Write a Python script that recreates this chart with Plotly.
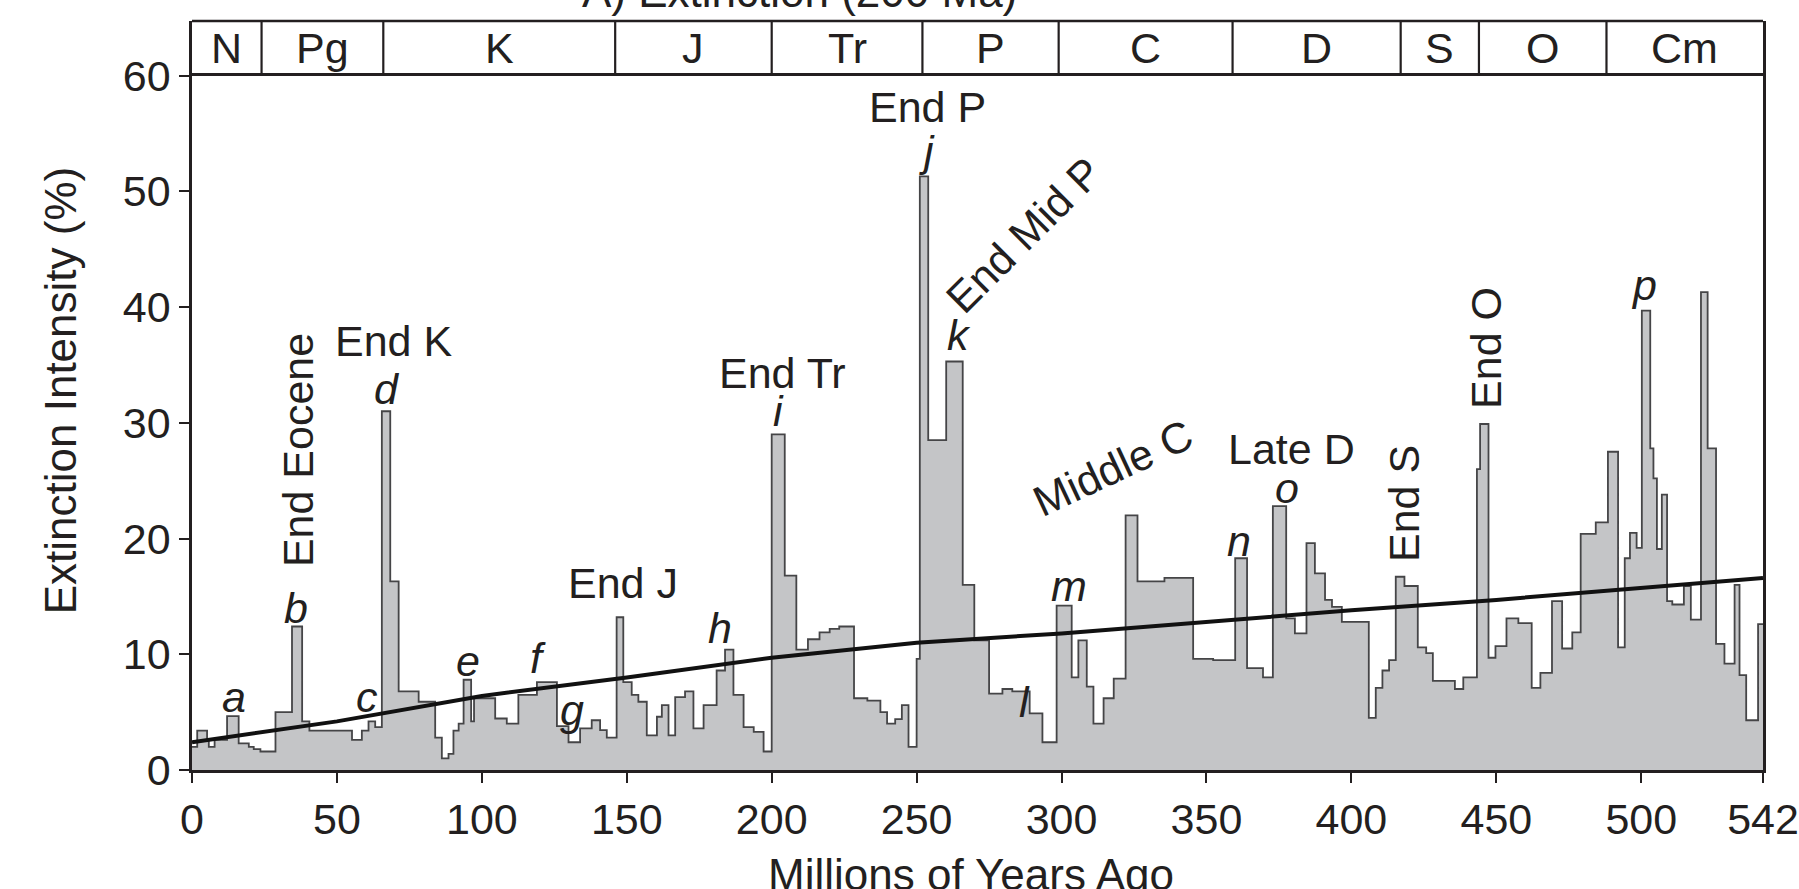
import plotly.graph_objects as go

# ---------------- data ----------------
# start of each stage interval (Ma); last entry is the end of the record
stage_start_ma = [
    0, 1.8, 5.2, 5.8, 7.8, 12.1, 16.1, 19.6, 21.3, 23.6, 28.8, 34.5, 38.0, 40.5,
    55.2, 58.6, 60.9, 63.2, 65.5, 68.4, 71.3, 78.2, 83.9, 86.2, 88.5, 90.2, 92.0,
    93.7, 96.3, 97.3, 104.6, 108.6, 112.6, 119.0, 125.9, 129.9, 133.9, 137.9,
    140.8, 143.1, 146.5, 148.8, 151.7, 154.0, 156.9, 160.4, 162.1, 164.4, 166.7,
    170.1, 173.0, 176.5, 181.0, 183.9, 186.8, 190.3, 193.8, 197.2, 200.0, 204.5,
    208.5, 212.5, 216.5, 220.0, 223.3, 228.4, 233.0, 237.5, 239.8, 242.6, 244.9,
    247.2, 250.0, 251.1, 254.0, 260.2, 265.9, 269.9, 275.0, 279.6, 283.0, 289.0,
    293.4, 298.3, 303.5, 305.8, 308.7, 311.0, 314.5, 318.0, 322.1, 326.2, 335.5,
    345.4, 352.3, 359.9, 364.0, 369.5, 372.9, 377.5, 380.5, 384.5, 387.4, 390.9,
    393.3, 396.7, 406.0, 408.4, 410.7, 413.0, 415.3, 418.3, 422.9, 425.8, 428.1,
    435.7, 438.6, 443.3, 444.4, 447.3, 449.7, 453.5, 457.6, 462.2, 465.2, 469.2,
    472.7, 476.2, 479.1, 484.3, 488.5, 492.0, 494.3, 496.1, 498.4, 500.2, 503.1,
    504.2, 505.4, 507.1, 508.9, 510.7, 514.7, 517.1, 520.6, 522.9, 525.8, 528.7,
    532.2, 533.9, 536.2, 540.3, 542.0,
]
extinction_pct = [
    2.0, 3.4, 2.6, 2.0, 2.6, 4.65, 2.3, 2.0, 1.8, 1.6, 5.0, 12.4, 4.2, 3.4,
    2.6, 3.4, 4.2, 3.7, 31.0, 16.3, 6.8, 5.9, 2.8, 1.0, 1.4, 3.4, 4.0,
    7.8, 4.2, 6.2, 4.45, 4.0, 6.5, 7.6, 3.8, 2.4, 3.6, 4.3,
    3.45, 2.8, 13.2, 7.6, 6.5, 5.9, 3.0, 4.6, 5.6, 3.0, 6.3,
    6.8, 3.6, 5.6, 8.6, 10.4, 6.5, 3.7, 3.3, 1.6, 29.0, 16.8,
    10.4, 11.3, 11.9, 12.2, 12.4, 6.2, 6.0, 5.0, 4.0, 4.4, 5.6,
    2.0, 9.6, 51.3, 28.5, 35.3, 16.0, 11.2, 6.6, 7.0, 6.8, 4.9,
    2.4, 14.2, 8.0, 11.2, 7.2, 4.0, 6.2, 7.9, 22.0, 16.3, 16.6,
    9.6, 9.5, 18.3, 8.8, 8.0, 22.8, 13.1, 11.8, 19.6, 17.0, 14.7,
    14.1, 12.8, 4.5, 7.1, 8.6, 9.5, 16.7, 15.9, 10.6, 10.1, 7.7,
    7.0, 8.0, 26.0, 29.9, 9.7, 10.7, 13.1, 12.7, 7.1, 8.4, 14.6,
    10.5, 11.9, 20.4, 21.4, 27.5, 10.6, 18.3, 20.5, 19.2, 39.7, 27.8,
    25.2, 19.1, 23.8, 14.6, 14.3, 15.9, 13.0, 41.3, 27.8, 10.9, 9.2,
    16.0, 8.2, 4.3, 12.6, 12.6,
]

trend_ma = [0, 50, 100, 150, 200, 250, 300, 350, 400, 450, 500, 542]
trend_pct = [2.4, 4.2, 6.4, 8.0, 9.7, 11.0, 11.8, 12.8, 13.8, 14.7, 15.7, 16.6]

period_names = ["N", "Pg", "K", "J", "Tr", "P", "C", "D", "S", "O", "Cm"]
period_bounds = [0, 24, 66, 146, 200, 252, 299, 359, 417, 444, 488, 542]

x_ticks = [0, 50, 100, 150, 200, 250, 300, 350, 400, 450, 500, 542]
y_ticks = [0, 10, 20, 30, 40, 50, 60]

# event labels: (text, Ma, %, angle)
event_labels = [
    ("<i>a</i>", 14.6, 6.3, 0), ("<i>b</i>", 36.0, 14.0, 0), ("<i>c</i>", 60.5, 6.3, 0),
    ("<i>d</i>", 67.3, 32.9, 0), ("<i>e</i>", 95.3, 9.4, 0), ("<i>f</i>", 119.5, 9.7, 0),
    ("<i>g</i>", 131.0, 5.2, 0), ("<i>h</i>", 182.0, 12.3, 0), ("<i>i</i>", 202.5, 31.0, 0),
    ("<i>j</i>", 253.6, 53.5, 0), ("<i>k</i>", 264.7, 37.6, 0), ("<i>l</i>", 287.2, 5.9, 0),
    ("<i>m</i>", 302.6, 15.9, 0), ("<i>n</i>", 361.2, 19.8, 0), ("<i>o</i>", 377.8, 24.4, 0),
    ("<i>p</i>", 500.8, 41.9, 0),
    ("End Eocene", 36.4, 27.6, -90), ("End K", 69.6, 37.1, 0), ("End J", 148.7, 16.2, 0),
    ("End Tr", 203.7, 34.3, 0), ("End P", 253.6, 57.3, 0), ("End Mid P", 287.0, 46.2, -45),
    ("Middle C", 317.7, 26.1, -25), ("Late D", 379.4, 27.7, 0), ("End S", 418.2, 23.0, -90),
    ("End O", 446.2, 36.5, -90),
]

# ---------------- figure ----------------
INK = "#231f20"
FONT = "Liberation Sans, Arial, Helvetica, sans-serif"
FS = 43

fig = go.Figure()

fig.add_trace(go.Scatter(
    x=stage_start_ma, y=extinction_pct,
    mode="lines", line=dict(shape="hv", color="#454547", width=1.8),
    fill="tozeroy", fillcolor="#c4c5c7", hoverinfo="skip", showlegend=False,
))
fig.add_trace(go.Scatter(
    x=trend_ma, y=trend_pct, mode="lines",
    line=dict(color="#111111", width=4), hoverinfo="skip", showlegend=False,
))
# invisible trace to create the header subplot
fig.add_trace(go.Scatter(x=[0], y=[0], xaxis="x", yaxis="y2", mode="markers",
                         marker=dict(opacity=0), hoverinfo="skip", showlegend=False))

shapes = []
for b in period_bounds[1:-1]:
    shapes.append(dict(type="line", xref="x", yref="y2", x0=b, x1=b, y0=0, y1=1,
                       line=dict(color=INK, width=2.2)))
shapes.append(dict(type="line", xref="paper", yref="paper", x0=0, x1=1, y0=1, y1=1,
                   line=dict(color=INK, width=2.5)))

annotations = []
for name, a, b in zip(period_names, period_bounds[:-1], period_bounds[1:]):
    annotations.append(dict(text=name, x=(a + b) / 2, y=0.5, xref="x", yref="y2",
                            showarrow=False, font=dict(size=FS, color=INK, family=FONT)))
for txt, xm, yv, ang in event_labels:
    annotations.append(dict(text=txt, x=xm, y=yv, xref="x", yref="y", showarrow=False,
                            textangle=ang, font=dict(size=FS, color=INK, family=FONT)))

annotations.append(dict(text="Extinction Intensity (%)", x=-0.084, y=0.507, xref="paper",
                        yref="paper", xanchor="center", yanchor="middle", showarrow=False,
                        textangle=-90, font=dict(size=FS + 1, color=INK, family=FONT)))
annotations.append(dict(text="Millions of Years Ago", x=0.4956, y=-0.139, xref="paper",
                        yref="paper", xanchor="center", yanchor="middle", showarrow=False,
                        font=dict(size=FS + 1, color=INK, family=FONT)))
annotations.append(dict(text="A) Extinction (200 Ma)", x=0.387, y=1.0, xref="paper",
                        yref="paper", xanchor="center", yanchor="bottom", yshift=3,
                        showarrow=False, font=dict(size=FS + 1, color=INK, family=FONT)))

fig.update_layout(
    width=1799, height=889,
    margin=dict(l=192, r=36, t=21, b=119, pad=0),
    paper_bgcolor="white", plot_bgcolor="white",
    font=dict(family=FONT, color=INK, size=FS),
    shapes=shapes, annotations=annotations,
    xaxis=dict(range=[0, 542], tickvals=x_ticks, ticktext=[str(t) for t in x_ticks],
               ticks="outside", ticklen=10, tickwidth=2, tickcolor=INK,
               showline=True, linewidth=2.5, linecolor=INK, mirror=True,
               showgrid=False, zeroline=False, anchor="y", automargin=False,
               tickfont=dict(size=FS, color=INK, family=FONT)),
    yaxis=dict(domain=[0, 0.927], range=[0, 60], tickvals=y_ticks,
               ticks="outside", ticklen=10, tickwidth=2, tickcolor=INK,
               showline=True, linewidth=2.5, linecolor=INK, mirror=True,
               showgrid=False, zeroline=False, automargin=False,
               tickfont=dict(size=FS, color=INK, family=FONT)),
    yaxis2=dict(domain=[0.927, 1], range=[0, 1], anchor="x", showticklabels=False,
                ticks="", showgrid=False, zeroline=False, showline=True, mirror=True,
                linewidth=2.5, linecolor=INK, automargin=False),
)

fig.write_html("out.html", config={"displayModeBar": False},
               post_script="document.body.style.margin='0';document.body.style.overflow='hidden';")
